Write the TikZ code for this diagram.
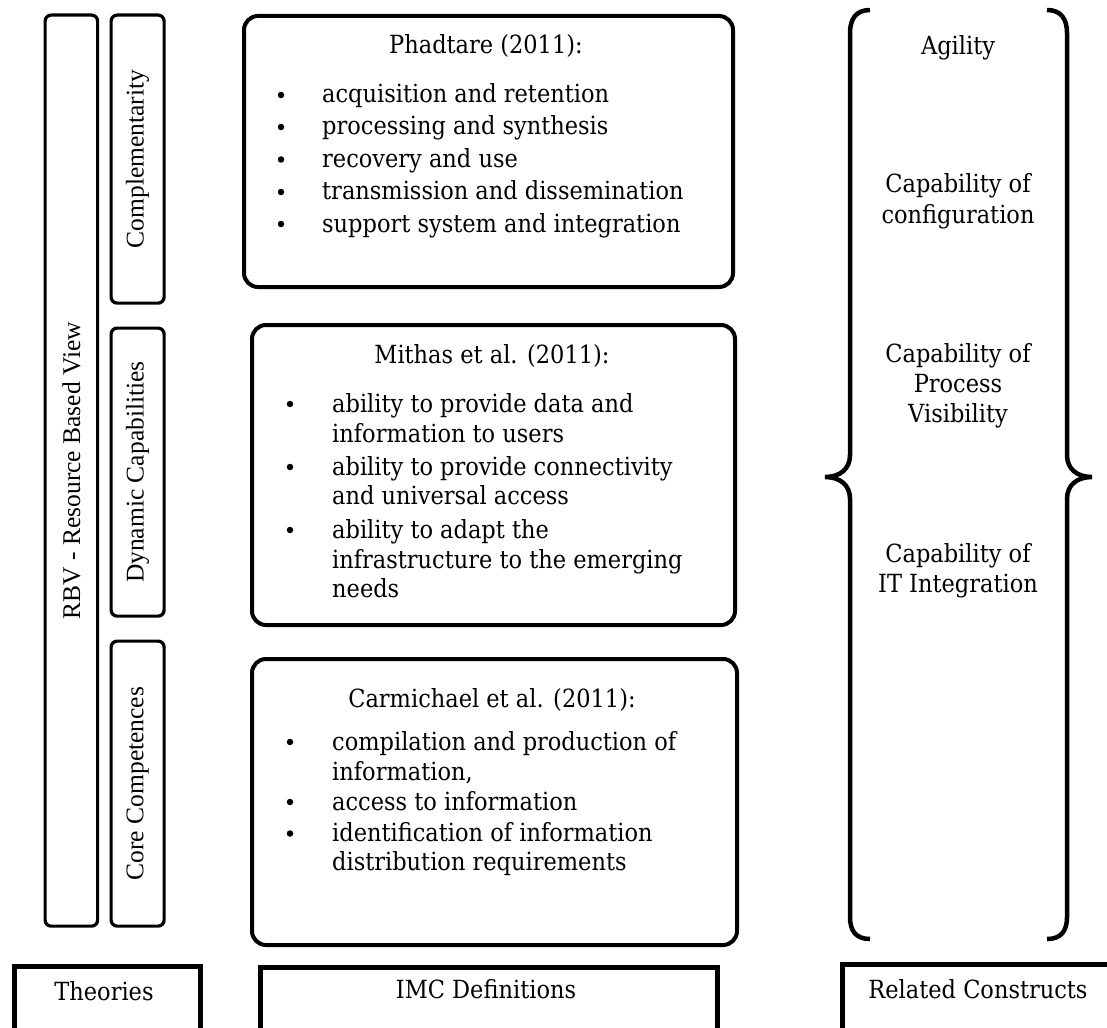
\documentclass[tikz,border=0pt]{standalone}
\usepackage{fontspec}
\setmainfont{DejaVu Serif}[FakeStretch=0.9]
\newfontfamily\tnr{Liberation Serif}
\begin{document}
\begin{tikzpicture}[x=1pt,y=-1pt,
  rbox/.style={draw, line width=4pt, rounded corners=14pt, inner sep=0pt, anchor=north west},
  vbox/.style={draw, line width=3.2pt, rounded corners=6pt, inner sep=0pt, anchor=north west},
  sbox/.style={draw, line width=5pt, inner sep=0pt, anchor=north west},
  txt/.style={font=\fontsize{25}{30}\selectfont, inner sep=0pt, anchor=base},
  bul/.style={circle, fill=black, inner sep=0pt, minimum size=6.5pt},
  itm/.style={font=\fontsize{25}{30}\selectfont, inner sep=0pt, anchor=base west},
  vtxt/.style={font=\tnr\fontsize{25.5}{30}\selectfont, inner sep=0pt, rotate=90},
  brace/.style={line width=4.5pt, line cap=butt}]
\useasboundingbox (0,0) rectangle (1107,1027);
\clip (0,0) rectangle (1107,1027);
% left column
\node[vbox, minimum width=52.5pt, minimum height=911pt] (rbv) at (43.5,13.5) {};
\node[vbox, minimum width=53pt, minimum height=288pt] (comp) at (109.5,13.5) {};
\node[vbox, minimum width=53pt, minimum height=288pt] (dyn) at (109.5,326.5) {};
\node[vbox, minimum width=53pt, minimum height=285pt] (core) at (109.5,639.5) {};
\node[vtxt] (rbvt) at (rbv.center) {RBV - Resource Based View};
\node[vtxt] (compt) at (comp.center) {Complementarity};
\node[vtxt] (dynt) at (dyn.center) {Dynamic Capabilities};
\node[vtxt] (coret) at (core.center) {Core Competences};
% middle boxes
\node[rbox, minimum width=489pt, minimum height=271pt] (ph) at (242,14) {};
\node[rbox, minimum width=483pt, minimum height=300pt] (mi) at (250,323) {};
\node[rbox, minimum width=485pt, minimum height=286pt] (ca) at (250,657) {};
% Phadtare
\node[txt] (pht) at (486,54) {Phadtare (2011):};
\node[bul] (phb1) at (281,95) {};
\node[itm] (phi1) at (322,103) {acquisition and retention};
\node[bul] (phb2) at (281,127) {};
\node[itm] (phi2) at (322,135) {processing and synthesis};
\node[bul] (phb3) at (281,159.5) {};
\node[itm] (phi3) at (322,167.5) {recovery and use};
\node[bul] (phb4) at (281,192) {};
\node[itm] (phi4) at (322,200) {transmission and dissemination};
\node[bul] (phb5) at (281,224) {};
\node[itm] (phi5) at (322,232) {support system and integration};
% Mithas
\node[txt] (mit) at (492,363) {Mithas et al. (2011):};
\node[bul] (mib1) at (290,404) {};
\node[itm] (mii1a) at (332,412) {ability to provide data and};
\node[itm] (mii1b) at (332,442) {information to users};
\node[bul] (mib2) at (290,467) {};
\node[itm] (mii2a) at (332,475) {ability to provide connectivity};
\node[itm] (mii2b) at (332,504) {and universal access};
\node[bul] (mib3) at (290,530) {};
\node[itm] (mii3a) at (332,538) {ability to adapt the};
\node[itm] (mii3b) at (332,568) {infrastructure to the emerging};
\node[itm] (mii3c) at (332,597) {needs};
% Carmichael
\node[txt] (cat) at (492,707) {Carmichael et al. (2011):};
\node[bul] (cab1) at (290,742) {};
\node[itm] (cai1a) at (332,750) {compilation and production of};
\node[itm] (cai1b) at (332,780) {information,};
\node[bul] (cab2) at (290,802) {};
\node[itm] (cai2) at (332,810) {access to information};
\node[bul] (cab3) at (290,833.5) {};
\node[itm] (cai3a) at (332,841.5) {identification of information};
\node[itm] (cai3b) at (332,870) {distribution requirements};
% braces
\draw[brace] (870,10) .. controls (856,10) and (850,19) .. (850,33) -- (850,455)
  .. controls (850,469) and (840,477) .. (825,477)
  .. controls (840,477) and (850,485) .. (850,499) -- (850,917)
  .. controls (850,931) and (856,939) .. (870,939);
\draw[brace] (1047,10) .. controls (1061,10) and (1067,19) .. (1067,33) -- (1067,455)
  .. controls (1067,469) and (1077,477) .. (1092,477)
  .. controls (1077,477) and (1067,485) .. (1067,499) -- (1067,917)
  .. controls (1067,931) and (1061,939) .. (1047,939);
% related constructs text
\node[txt] (ag) at (958,55) {Agility};
\node[txt] (conf1) at (958,193) {Capability of};
\node[txt] (conf2) at (958,223) {configuration};
\node[txt] (vis1) at (958,362) {Capability of};
\node[txt] (vis2) at (958,392) {Process};
\node[txt] (vis3) at (958,422) {Visibility};
\node[txt] (iti1) at (958,562) {Capability of};
\node[txt] (iti2) at (958,592) {IT Integration};
% bottom boxes
\node[sbox, minimum width=186pt, minimum height=90pt] (th) at (11.5,963.5) {};
\node[sbox, minimum width=457pt, minimum height=90pt] (imc) at (257.5,964.5) {};
\node[sbox, minimum width=300pt, minimum height=90pt] (rc) at (839.5,961.5) {};
\node[txt] (tht) at (104,1000) {Theories};
\node[txt] (imct) at (486,998) {IMC Definitions};
\node[txt] (rct) at (978,998) {Related Constructs};
\end{tikzpicture}
\end{document}
